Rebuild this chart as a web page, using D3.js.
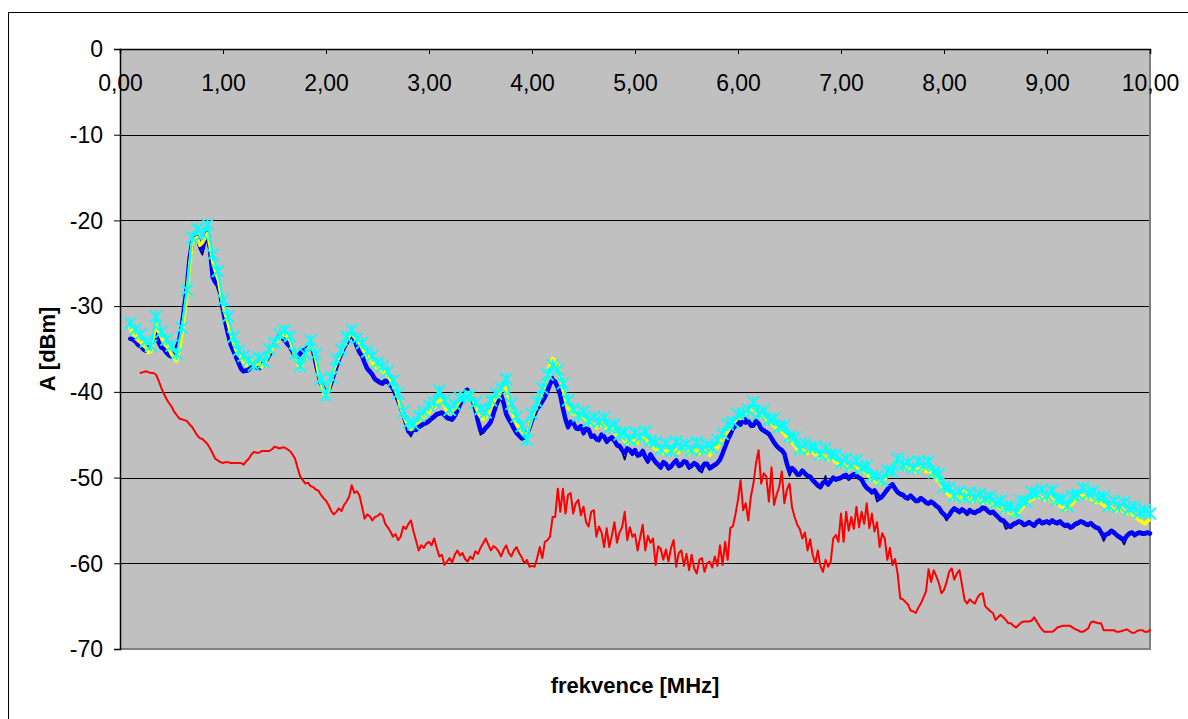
<!DOCTYPE html>
<html>
<head>
<meta charset="utf-8">
<script src="https://cdn.jsdelivr.net/npm/d3@7"></script>
<style>
  body { margin: 0; background: #ffffff; }
  svg { display: block; font-family: "Liberation Sans", Arial, sans-serif; }
</style>
</head>
<body>
<svg id="chart" width="1188" height="719"></svg>
<script>
// Fine frequency grid [MHz], 0.025 MHz step
const freq = [
  0.1,0.125,0.15,0.175,0.2,0.225,0.25,0.275,0.3,0.325,0.35,0.375,0.4,0.425,0.45,0.475,0.5,0.525,0.55,0.575,0.6,0.625,0.65,0.675,0.7,0.725,0.75,0.775,0.8,0.825,0.85,0.875,0.9,0.925,0.95,0.975,
  1,1.025,1.05,1.075,1.1,1.125,1.15,1.175,1.2,1.225,1.25,1.275,1.3,1.325,1.35,1.375,1.4,1.425,1.45,1.475,1.5,1.525,1.55,1.575,1.6,1.625,1.65,1.675,1.7,1.725,1.75,1.775,1.8,1.825,1.85,1.875,1.9,1.925,1.95,1.975,
  2,2.025,2.05,2.075,2.1,2.125,2.15,2.175,2.2,2.225,2.25,2.275,2.3,2.325,2.35,2.375,2.4,2.425,2.45,2.475,2.5,2.525,2.55,2.575,2.6,2.625,2.65,2.675,2.7,2.725,2.75,2.775,2.8,2.825,2.85,2.875,2.9,2.925,2.95,2.975,
  3,3.025,3.05,3.075,3.1,3.125,3.15,3.175,3.2,3.225,3.25,3.275,3.3,3.325,3.35,3.375,3.4,3.425,3.45,3.475,3.5,3.525,3.55,3.575,3.6,3.625,3.65,3.675,3.7,3.725,3.75,3.775,3.8,3.825,3.85,3.875,3.9,3.925,3.95,3.975,
  4,4.025,4.05,4.075,4.1,4.125,4.15,4.175,4.2,4.225,4.25,4.275,4.3,4.325,4.35,4.375,4.4,4.425,4.45,4.475,4.5,4.525,4.55,4.575,4.6,4.625,4.65,4.675,4.7,4.725,4.75,4.775,4.8,4.825,4.85,4.875,4.9,4.925,4.95,4.975,
  5,5.025,5.05,5.075,5.1,5.125,5.15,5.175,5.2,5.225,5.25,5.275,5.3,5.325,5.35,5.375,5.4,5.425,5.45,5.475,5.5,5.525,5.55,5.575,5.6,5.625,5.65,5.675,5.7,5.725,5.75,5.775,5.8,5.825,5.85,5.875,5.9,5.925,5.95,5.975,
  6,6.025,6.05,6.075,6.1,6.125,6.15,6.175,6.2,6.225,6.25,6.275,6.3,6.325,6.35,6.375,6.4,6.425,6.45,6.475,6.5,6.525,6.55,6.575,6.6,6.625,6.65,6.675,6.7,6.725,6.75,6.775,6.8,6.825,6.85,6.875,6.9,6.925,6.95,6.975,
  7,7.025,7.05,7.075,7.1,7.125,7.15,7.175,7.2,7.225,7.25,7.275,7.3,7.325,7.35,7.375,7.4,7.425,7.45,7.475,7.5,7.525,7.55,7.575,7.6,7.625,7.65,7.675,7.7,7.725,7.75,7.775,7.8,7.825,7.85,7.875,7.9,7.925,7.95,7.975,
  8,8.025,8.05,8.075,8.1,8.125,8.15,8.175,8.2,8.225,8.25,8.275,8.3,8.325,8.35,8.375,8.4,8.425,8.45,8.475,8.5,8.525,8.55,8.575,8.6,8.625,8.65,8.675,8.7,8.725,8.75,8.775,8.8,8.825,8.85,8.875,8.9,8.925,8.95,8.975,
  9,9.025,9.05,9.075,9.1,9.125,9.15,9.175,9.2,9.225,9.25,9.275,9.3,9.325,9.35,9.375,9.4,9.425,9.45,9.475,9.5,9.525,9.55,9.575,9.6,9.625,9.65,9.675,9.7,9.725,9.75,9.775,9.8,9.825,9.85,9.875,9.9,9.925,9.95,9.975,
  10
];

// Coarse frequency grid [MHz] for the marked series, 0.05 MHz step
const freqCoarse = [
  0.1,0.15,0.2,0.25,0.3,0.35,0.4,0.45,0.5,0.55,0.6,0.65,0.7,0.75,0.8,0.85,0.9,0.95,
  1,1.05,1.1,1.15,1.2,1.25,1.3,1.35,1.4,1.45,1.5,1.55,1.6,1.65,1.7,1.75,1.8,1.85,1.9,1.95,
  2,2.05,2.1,2.15,2.2,2.25,2.3,2.35,2.4,2.45,2.5,2.55,2.6,2.65,2.7,2.75,2.8,2.85,2.9,2.95,
  3,3.05,3.1,3.15,3.2,3.25,3.3,3.35,3.4,3.45,3.5,3.55,3.6,3.65,3.7,3.75,3.8,3.85,3.9,3.95,
  4,4.05,4.1,4.15,4.2,4.25,4.3,4.35,4.4,4.45,4.5,4.55,4.6,4.65,4.7,4.75,4.8,4.85,4.9,4.95,
  5,5.05,5.1,5.15,5.2,5.25,5.3,5.35,5.4,5.45,5.5,5.55,5.6,5.65,5.7,5.75,5.8,5.85,5.9,5.95,
  6,6.05,6.1,6.15,6.2,6.25,6.3,6.35,6.4,6.45,6.5,6.55,6.6,6.65,6.7,6.75,6.8,6.85,6.9,6.95,
  7,7.05,7.1,7.15,7.2,7.25,7.3,7.35,7.4,7.45,7.5,7.55,7.6,7.65,7.7,7.75,7.8,7.85,7.9,7.95,
  8,8.05,8.1,8.15,8.2,8.25,8.3,8.35,8.4,8.45,8.5,8.55,8.6,8.65,8.7,8.75,8.8,8.85,8.9,8.95,
  9,9.05,9.1,9.15,9.2,9.25,9.3,9.35,9.4,9.45,9.5,9.55,9.6,9.65,9.7,9.75,9.8,9.85,9.9,9.95,
  10
];

// Measured level A [dBm] on the fine grid
const navy = [
  -33.9,-34.0,-34.3,-34.7,-34.8,-35.2,-35.3,-35.0,-34.6,-34.1,-33.2,-34.4,-34.9,-35.2,-35.6,-35.9,-36.0,-35.5,-35.0,-34.1,-32.5,-30.2,-27.9,-24.7,-22.8,-22.4,-22.5,-23.4,-24.0,-22.6,-21.2,-23.7,-26.8,-27.4,-27.7,-28.8,
  -30.6,-32.2,-33.5,-34.7,-35.4,-36.1,-36.8,-37.5,-37.7,-37.7,-37.6,-37.1,-37.0,-37.3,-37.4,-37.1,-36.7,-36.3,-35.8,-35.2,-34.6,-34.0,-33.5,-33.9,-34.1,-34.6,-34.9,-35.5,-36.0,-36.0,-35.6,-35.3,-35.2,-35.0,-34.8,-35.4,-37.2,-38.1,-39.2,-39.8,
  -40.3,-40.0,-39.2,-38.2,-37.3,-36.3,-35.6,-35.0,-34.4,-33.8,-33.4,-34.1,-34.9,-35.6,-36.0,-36.8,-37.5,-37.8,-38.2,-38.7,-38.9,-39.1,-39.2,-38.9,-39.0,-39.4,-39.8,-40.5,-41.2,-42.0,-42.7,-43.8,-44.8,-45.2,-44.5,-44.6,-44.3,-44.1,-43.9,-43.8,
  -43.6,-43.3,-43.1,-42.8,-42.7,-42.6,-42.9,-43.2,-43.3,-43.4,-43.0,-42.4,-41.7,-41.1,-39.7,-39.6,-40.5,-41.2,-42.2,-43.6,-45.0,-44.8,-44.4,-44.1,-43.7,-42.8,-41.8,-41.1,-40.2,-41.5,-42.8,-43.4,-43.9,-44.5,-45.0,-45.3,-45.6,-45.5,-45.1,-44.4,
  -43.5,-42.8,-42.1,-41.8,-41.3,-40.8,-40.1,-39.3,-38.2,-39.0,-39.7,-40.6,-42.1,-43.4,-44.3,-43.7,-43.8,-44.4,-44.5,-44.2,-45.0,-44.5,-44.6,-45.4,-45.3,-45.7,-45.8,-45.2,-45.4,-46.0,-45.7,-45.5,-45.9,-46.4,-46.5,-47.0,-47.9,-46.8,-47.0,-47.4,
  -47.0,-47.6,-47.5,-47.1,-47.8,-48.3,-47.5,-48.0,-48.4,-48.7,-49.0,-48.4,-48.6,-49.1,-48.9,-48.5,-48.2,-48.8,-48.7,-48.3,-48.4,-49.0,-48.8,-48.5,-48.7,-49.2,-49.4,-48.6,-48.6,-49.1,-48.9,-48.7,-48.5,-48.1,-47.4,-46.6,-45.8,-45.2,-44.5,-44.1,
  -43.7,-44.0,-43.4,-43.0,-43.6,-44.1,-44.1,-43.6,-43.9,-44.5,-44.7,-44.9,-45.1,-45.6,-46.1,-46.5,-46.8,-47.0,-47.4,-48.6,-49.8,-49.1,-49.4,-49.8,-49.8,-49.4,-49.7,-50.0,-50.1,-50.5,-50.8,-51.1,-51.3,-50.8,-49.8,-51.0,-50.6,-50.2,-50.4,-50.3,
  -50.2,-50.0,-49.9,-50.3,-50.0,-49.8,-50.0,-50.2,-50.4,-51.0,-51.4,-51.6,-51.9,-51.7,-52.8,-52.6,-52.4,-52.0,-51.6,-51.2,-51.0,-51.5,-51.9,-52.1,-52.2,-52.5,-52.6,-52.3,-52.6,-52.9,-52.9,-52.6,-52.8,-53.1,-53.2,-53.0,-53.2,-53.5,-53.7,-54.2,
  -54.5,-55.0,-54.6,-54.1,-53.8,-54.0,-54.2,-53.9,-54.1,-54.4,-54.0,-54.2,-54.3,-54.1,-54.0,-53.7,-53.8,-54.1,-54.3,-54.2,-54.5,-54.8,-55.1,-55.2,-56.0,-55.8,-55.9,-55.6,-55.5,-55.3,-55.4,-55.7,-55.6,-55.4,-55.6,-55.8,-55.4,-55.2,-55.5,-55.4,
  -55.3,-55.5,-55.2,-55.4,-55.5,-55.3,-55.6,-55.8,-55.7,-56.0,-55.9,-55.6,-55.5,-55.3,-55.4,-55.6,-55.7,-55.5,-55.8,-56.0,-56.1,-56.6,-57.4,-56.8,-56.7,-56.4,-56.6,-56.9,-57.1,-57.3,-57.8,-57.0,-56.7,-56.6,-56.9,-56.7,-56.6,-56.7,-56.7,-56.6,
  -56.7
];

const blue = [
  -33.8,-33.9,-34.1,-34.5,-34.6,-35.0,-35.2,-34.9,-34.5,-34.0,-33.3,-34.2,-34.8,-35.0,-35.4,-35.7,-35.9,-35.4,-34.9,-34.0,-32.4,-30.0,-27.7,-24.5,-22.6,-22.1,-22.0,-22.8,-23.3,-22.3,-21.4,-23.5,-26.6,-27.2,-27.6,-28.6,
  -30.5,-32.0,-33.3,-34.5,-35.2,-35.9,-36.6,-37.3,-37.6,-37.5,-37.4,-37.0,-36.9,-37.1,-37.3,-36.9,-36.5,-36.2,-35.7,-35.0,-34.5,-33.9,-33.4,-33.7,-34.0,-34.4,-34.7,-35.3,-35.8,-35.9,-35.5,-35.2,-35.1,-34.8,-34.6,-35.2,-36.6,-37.9,-39.0,-39.6,
  -40.1,-39.8,-39.0,-38.0,-37.1,-36.2,-35.5,-34.8,-34.3,-33.6,-33.2,-33.9,-34.7,-35.4,-35.8,-36.6,-37.3,-37.6,-38.0,-38.5,-38.7,-38.9,-39.0,-38.7,-38.8,-39.2,-39.6,-40.3,-41.0,-41.8,-42.5,-43.6,-44.6,-44.8,-44.3,-44.4,-44.1,-43.9,-43.7,-43.6,
  -43.4,-43.1,-42.9,-42.6,-42.5,-42.4,-42.7,-43.0,-43.1,-43.2,-42.8,-42.2,-41.5,-40.9,-40.5,-39.8,-40.3,-41.0,-42.0,-43.4,-44.5,-44.6,-44.2,-43.9,-43.5,-42.6,-41.6,-40.9,-40.4,-41.3,-42.6,-43.2,-43.7,-44.3,-44.8,-45.1,-45.4,-45.3,-44.9,-44.2,
  -43.3,-42.6,-41.9,-41.6,-41.1,-40.6,-39.9,-39.1,-38.6,-38.8,-39.5,-40.4,-41.9,-43.2,-44.1,-43.5,-43.6,-44.2,-44.3,-44.0,-44.8,-44.3,-44.4,-45.2,-45.1,-45.5,-45.6,-45.0,-45.2,-45.8,-45.5,-45.3,-45.7,-46.2,-46.3,-46.8,-47.1,-46.6,-46.8,-47.2,
  -46.8,-47.4,-47.3,-46.9,-47.6,-48.1,-47.3,-47.8,-48.2,-48.5,-48.8,-48.2,-48.4,-48.9,-48.7,-48.3,-48.0,-48.6,-48.5,-48.1,-48.2,-48.8,-48.6,-48.3,-48.5,-49.0,-48.8,-48.4,-48.4,-48.9,-48.7,-48.5,-48.3,-47.9,-47.2,-46.4,-45.6,-45.0,-44.3,-43.9,
  -43.5,-43.8,-43.2,-43.6,-43.4,-43.9,-43.9,-43.4,-43.7,-44.3,-44.5,-44.7,-44.9,-45.4,-45.9,-46.3,-46.6,-46.8,-47.2,-48.4,-49.3,-48.9,-49.2,-49.6,-49.6,-49.2,-49.5,-49.8,-49.9,-50.3,-50.6,-50.9,-51.1,-50.6,-50.5,-50.8,-50.4,-50.0,-50.2,-50.1,
  -50.0,-49.8,-49.7,-50.1,-49.8,-49.6,-49.8,-50.0,-50.2,-50.8,-51.2,-51.4,-51.7,-51.5,-52.0,-52.4,-52.2,-51.8,-51.4,-51.0,-50.8,-51.3,-51.7,-51.9,-52.0,-52.3,-52.4,-52.1,-52.4,-52.7,-52.7,-52.4,-52.6,-52.9,-53.0,-52.8,-53.0,-53.3,-53.5,-54.0,
  -54.3,-54.6,-54.4,-53.9,-53.6,-53.8,-54.0,-53.7,-53.9,-54.2,-53.8,-54.0,-54.1,-53.9,-53.8,-53.5,-53.6,-53.9,-54.1,-54.0,-54.3,-54.6,-54.9,-55.0,-55.3,-55.6,-55.7,-55.4,-55.3,-55.1,-55.2,-55.5,-55.4,-55.2,-55.4,-55.6,-55.2,-55.0,-55.3,-55.2,
  -55.1,-55.3,-55.0,-55.2,-55.3,-55.1,-55.4,-55.6,-55.5,-55.8,-55.7,-55.4,-55.3,-55.1,-55.2,-55.4,-55.5,-55.3,-55.6,-55.8,-55.9,-56.4,-56.9,-56.6,-56.5,-56.2,-56.4,-56.7,-56.9,-57.1,-57.2,-56.8,-56.5,-56.4,-56.7,-56.5,-56.4,-56.5,-56.5,-56.4,
  -56.5
];

const yellow = [
  -32.6,-33.2,-33.4,-34.0,-34.2,-34.6,-34.8,-35.4,-35.3,-33.5,-32.0,-33.0,-33.6,-34.0,-34.6,-35.0,-35.6,-36.0,-36.4,-35.2,-33.4,-31.0,-28.6,-25.5,-22.8,-22.2,-22.0,-22.9,-22.6,-22.0,-21.5,-23.0,-24.8,-25.9,-26.5,-28.3,
  -29.8,-31.0,-32.0,-33.2,-34.2,-35.1,-35.7,-36.0,-36.5,-36.9,-36.8,-36.4,-37.0,-36.8,-36.6,-37.1,-36.8,-36.1,-35.4,-35.2,-34.5,-34.1,-33.7,-33.5,-33.3,-33.6,-33.9,-34.9,-35.8,-36.7,-37.3,-36.5,-35.9,-35.0,-34.3,-34.9,-36.0,-37.6,-38.9,-40.0,
  -40.6,-39.7,-38.6,-37.5,-36.6,-36.0,-35.3,-34.6,-34.0,-33.5,-33.1,-33.6,-34.0,-34.3,-34.8,-35.4,-35.8,-36.1,-36.6,-37.0,-37.2,-37.3,-37.6,-37.9,-38.1,-38.6,-39.2,-39.8,-40.6,-41.8,-42.6,-43.4,-44.0,-44.4,-43.9,-43.6,-43.4,-43.2,-42.9,-42.6,
  -42.4,-41.8,-41.9,-41.2,-40.8,-41.2,-41.6,-42.3,-42.5,-42.2,-42.0,-41.5,-41.0,-40.5,-40.4,-40.1,-40.2,-40.9,-41.6,-42.4,-42.9,-43.2,-43.0,-42.5,-41.8,-41.3,-40.7,-40.5,-39.9,-39.6,-39.5,-40.8,-42.0,-42.9,-43.6,-44.2,-44.6,-44.9,-45.0,-44.0,
  -43.0,-42.2,-41.5,-40.8,-39.9,-38.9,-37.8,-36.8,-36.1,-36.4,-37.0,-38.2,-39.6,-40.8,-41.8,-42.3,-42.6,-42.3,-43.0,-42.8,-43.3,-43.1,-43.5,-43.8,-43.9,-44.2,-44.0,-43.7,-44.0,-44.3,-44.4,-44.2,-44.8,-45.1,-45.1,-45.0,-45.7,-46.0,-45.9,-45.6,
  -45.8,-46.0,-45.6,-45.4,-45.6,-45.9,-46.0,-46.4,-46.7,-46.6,-47.0,-47.2,-46.9,-46.7,-47.1,-47.0,-46.8,-47.1,-46.6,-46.5,-46.9,-47.2,-47.0,-46.8,-46.9,-47.2,-47.0,-46.7,-47.2,-47.4,-46.9,-46.7,-46.5,-46.0,-45.3,-45.0,-44.6,-44.1,-43.6,-43.4,
  -43.0,-43.1,-42.6,-42.4,-42.2,-42.0,-42.0,-42.3,-42.6,-42.9,-43.0,-43.2,-43.5,-43.8,-44.0,-44.3,-44.4,-44.6,-44.9,-45.3,-45.6,-45.9,-46.3,-46.7,-47.0,-46.8,-47.0,-47.2,-46.9,-47.0,-47.3,-47.6,-47.7,-47.4,-47.6,-47.9,-47.8,-47.9,-48.2,-48.4,
  -48.6,-48.5,-48.8,-49.0,-48.9,-48.7,-48.9,-49.1,-49.3,-49.3,-49.5,-49.9,-50.1,-50.4,-50.6,-50.7,-50.4,-50.1,-49.8,-49.4,-48.8,-48.3,-48.0,-48.2,-48.5,-48.8,-48.9,-49.1,-49.2,-49.3,-49.0,-48.9,-49.0,-49.3,-49.2,-49.4,-49.8,-50.2,-50.5,-50.9,
  -51.4,-51.8,-52.0,-52.4,-52.3,-52.0,-52.2,-52.6,-51.6,-52.0,-52.4,-52.7,-52.6,-52.5,-52.8,-53.0,-52.9,-52.7,-53.1,-53.3,-53.4,-53.5,-53.6,-53.9,-53.8,-54.0,-54.1,-54.4,-54.3,-54.0,-53.6,-53.4,-53.1,-52.8,-52.6,-52.4,-52.3,-52.2,-52.4,-52.6,
  -52.5,-52.3,-52.6,-52.9,-53.0,-53.3,-53.4,-53.7,-53.6,-53.3,-53.0,-52.6,-52.3,-52.2,-52.1,-52.4,-52.3,-52.5,-52.6,-52.9,-52.8,-53.0,-53.2,-53.5,-53.6,-53.4,-53.7,-53.9,-53.8,-53.6,-54.0,-54.2,-54.2,-54.3,-54.5,-54.8,-55.0,-55.2,-55.4,-55.1,
  -54.9
];

const red = [
  null,null,null,null,-37.8,-37.7,-37.6,-37.7,-37.8,-37.8,-38.0,-38.7,-39.5,-40.2,-40.8,-41.3,-41.7,-42.3,-42.7,-43.1,-43.2,-43.3,-43.4,-43.8,-44.1,-44.6,-45.1,-45.4,-45.5,-45.8,-46.1,-46.6,-47.2,-47.8,-48.0,-48.2,
  -48.3,-48.2,-48.2,-48.3,-48.3,-48.3,-48.3,-48.3,-48.5,-48.1,-47.8,-47.3,-47.0,-47.1,-47.1,-46.9,-46.9,-46.9,-46.9,-46.7,-46.4,-46.5,-46.6,-46.5,-46.5,-46.7,-46.9,-47.3,-47.8,-48.9,-49.9,-50.3,-50.7,-50.6,-51.0,-51.1,-51.4,-51.5,-52.0,-52.4,
  -52.7,-53.2,-53.9,-54.3,-54.0,-53.6,-53.9,-53.2,-52.8,-52.2,-50.9,-51.8,-51.6,-52.1,-53.4,-54.8,-54.3,-54.5,-55.0,-54.6,-54.5,-54.2,-54.4,-55.4,-55.8,-56.3,-56.9,-56.6,-57.3,-56.9,-55.7,-56.0,-55.4,-55.0,-56.3,-57.4,-58.5,-57.9,-58.2,-57.7,
  -57.5,-57.9,-57.1,-58.2,-59.2,-59.0,-60.2,-59.8,-59.4,-59.9,-59.0,-58.5,-59.1,-58.8,-59.5,-59.8,-59.2,-59.5,-58.6,-58.9,-58.2,-57.7,-57.1,-57.8,-58.5,-58.0,-58.2,-58.6,-59.2,-58.4,-57.9,-58.8,-59.2,-58.5,-58.1,-58.8,-59.3,-60.0,-59.6,-60.4,
  -60.3,-60.4,-59.4,-58.1,-59.4,-57.5,-57.3,-56.9,-54.6,-54.6,-51.3,-54.0,-51.3,-54.2,-52.0,-51.8,-54.2,-53.0,-52.6,-54.4,-53.4,-55.2,-55.7,-54.0,-53.8,-56.9,-55.7,-56.4,-58.1,-55.9,-58.1,-56.8,-55.2,-57.6,-56.4,-55.8,-54.0,-57.3,-55.8,-56.9,
  -56.6,-58.5,-57.0,-55.5,-58.5,-56.8,-57.6,-57.1,-60.2,-58.0,-58.3,-59.6,-58.4,-59.8,-58.2,-57.3,-60.4,-58.8,-58.5,-60.3,-58.9,-60.8,-59.0,-60.6,-61.2,-59.6,-59.4,-61.0,-60.0,-59.8,-60.5,-59.2,-60.3,-57.9,-60.2,-57.5,-59.6,-55.9,-55.7,-54.3,
  -52.6,-50.3,-53.8,-53.0,-55.0,-52.2,-50.7,-48.3,-46.8,-50.7,-49.5,-49.9,-52.8,-48.8,-53.2,-52.0,-51.1,-49.3,-53.0,-51.4,-50.7,-53.5,-54.6,-55.5,-56.0,-57.1,-56.4,-58.5,-57.2,-59.0,-60.0,-58.5,-60.3,-61.0,-59.6,-60.4,-59.8,-57.1,-56.7,-57.5,
  -54.2,-57.5,-54.0,-56.2,-54.6,-56.0,-53.4,-55.8,-54.0,-55.4,-53.0,-55.9,-54.2,-56.3,-55.2,-58.1,-56.5,-57.1,-59.6,-58.2,-60.2,-59.5,-61.2,-64.1,-64.2,-64.5,-64.8,-65.5,-65.6,-65.8,-65.2,-64.7,-64.0,-63.3,-60.7,-62.2,-60.8,-61.5,-62.3,-63.5,
  -63.1,-62.2,-61.0,-60.6,-61.9,-61.2,-60.8,-62.5,-64.3,-64.7,-64.2,-64.5,-64.7,-64.0,-63.6,-63.5,-65.0,-65.3,-65.6,-65.8,-66.6,-66.3,-66.0,-66.3,-66.6,-67.0,-67.0,-67.3,-67.5,-67.2,-66.9,-66.8,-66.8,-66.8,-66.7,-66.3,-66.8,-67.3,-67.7,-68.0,
  -68.0,-68.0,-68.0,-67.8,-67.5,-67.4,-67.3,-67.3,-67.3,-67.3,-67.5,-67.7,-67.8,-68.0,-68.0,-67.8,-67.6,-66.9,-66.8,-66.9,-67.0,-67.0,-67.8,-67.8,-67.8,-67.8,-67.8,-68.0,-68.0,-67.9,-67.8,-67.7,-67.9,-68.1,-68.1,-67.9,-67.8,-67.8,-68.0,-68.0,
  -67.8
];

// Measured level A [dBm] on the coarse grid (star-marked series)
const cyan = [
  -32.0,-32.7,-33.3,-34.1,-34.6,-31.2,-33.0,-33.9,-34.6,-35.6,-32.5,-28.1,-22.0,-21.0,-21.6,-20.5,-24.0,-25.9,
  -29.3,-31.2,-33.6,-35.2,-35.8,-36.3,-36.9,-36.0,-36.5,-35.0,-34.3,-33.3,-32.8,-33.5,-35.5,-37.0,-35.6,-34.0,-35.6,-38.5,
  -40.4,-38.3,-36.2,-35.1,-33.6,-32.8,-33.8,-34.3,-35.3,-35.8,-36.6,-37.0,-37.6,-38.7,-40.2,-42.3,-43.6,-43.8,-42.8,-42.3,
  -41.6,-41.2,-39.9,-41.0,-42.1,-41.5,-40.7,-40.6,-40.4,-41.3,-42.0,-42.4,-41.0,-40.2,-39.6,-38.5,-41.4,-42.9,-44.0,-45.6,
  -42.6,-41.2,-39.6,-38.0,-36.9,-37.4,-39.0,-41.0,-42.0,-42.8,-42.3,-43.4,-42.9,-43.5,-43.0,-44.2,-43.8,-45.0,-44.7,-45.6,
  -44.8,-45.3,-44.6,-45.7,-45.9,-46.7,-46.0,-46.9,-45.8,-46.4,-46.1,-46.8,-45.9,-46.7,-46.2,-46.5,-45.6,-44.9,-43.8,-43.5,
  -42.6,-42.5,-42.1,-41.2,-42.6,-42.2,-43.3,-43.1,-44.1,-43.9,-45.2,-45.3,-46.7,-46.0,-46.5,-46.4,-47.3,-46.6,-47.4,-47.3,
  -48.3,-47.8,-48.6,-48.0,-48.9,-48.6,-49.8,-49.8,-50.3,-49.2,-49.3,-47.8,-48.6,-48.2,-48.9,-48.1,-48.6,-48.1,-49.4,-49.6,
  -51.1,-51.2,-52.1,-51.6,-52.3,-51.8,-52.3,-51.9,-52.5,-52.2,-53.0,-52.7,-53.5,-53.3,-54.1,-52.7,-52.8,-51.7,-51.9,-51.4,
  -52.1,-51.5,-52.6,-52.5,-53.3,-52.1,-52.0,-51.2,-51.9,-51.6,-52.3,-52.2,-53.3,-52.7,-53.4,-52.9,-53.7,-53.4,-54.1,-53.8,
  -54.2
];

// Axis ticks and labels
const xTickValues = [0,1,2,3,4,5,6,7,8,9,10];
const xTickLabels = ["0,00","1,00","2,00","3,00","4,00","5,00","6,00","7,00","8,00","9,00","10,00"];
const yTickValues = [0,-10,-20,-30,-40,-50,-60,-70];
const xTitle = "frekvence [MHz]";
const yTitle = "A [dBm]";

const svg = d3.select("#chart");
const plot = { left: 120, top: 49, right: 1150, bottom: 649 };

const x = d3.scaleLinear().domain([0, 10]).range([plot.left, plot.right]);
const y = d3.scaleLinear().domain([-70, 0]).range([plot.bottom, plot.top]);

// Outer chart frame
svg.append("rect")
  .attr("x", 8.5).attr("y", 12.5)
  .attr("width", 1200).attr("height", 720)
  .attr("fill", "#ffffff").attr("stroke", "#000000").attr("stroke-width", 1);

// Plot area
svg.append("rect")
  .attr("x", plot.left).attr("y", plot.top)
  .attr("width", plot.right - plot.left).attr("height", plot.bottom - plot.top)
  .attr("fill", "#c0c0c0");

// Horizontal gridlines
svg.append("g")
  .selectAll("line")
  .data(yTickValues.filter(v => v !== 0 && v !== -70))
  .join("line")
  .attr("x1", plot.left).attr("x2", plot.right)
  .attr("y1", d => Math.round(y(d)) + 0.5).attr("y2", d => Math.round(y(d)) + 0.5)
  .attr("stroke", "#000000").attr("stroke-width", 1);

// Right and bottom border of the plot area
svg.append("path")
  .attr("d", `M${plot.right},${plot.top}V${plot.bottom}H${plot.left}`)
  .attr("fill", "none").attr("stroke", "#808080").attr("stroke-width", 2);

// Series
const pts = (fs, vals) => fs.map((f, i) => [f, vals[i]]);
const line = d3.line()
  .defined(d => d[1] !== null && d[1] !== undefined)
  .x(d => x(d[0]))
  .y(d => y(d[1]));

const gData = svg.append("g");
function drawLine(fs, vals, color, width) {
  gData.append("path")
    .datum(pts(fs, vals))
    .attr("d", line)
    .attr("fill", "none")
    .attr("stroke", color)
    .attr("stroke-width", width)
    .attr("stroke-linejoin", "round")
    .attr("stroke-linecap", "round");
}

drawLine(freq, navy, "#000080", 1.8);
drawLine(freq, blue, "#0000ff", 4.5);
drawLine(freq, yellow, "#ffff00", 3.6);
drawLine(freqCoarse, cyan, "#00ffff", 2.2);

// Star markers on the cyan series
const starPath = "M-6,-6L6,6M-6,6L6,-6M0,-6L0,6";
gData.append("g")
  .selectAll("path")
  .data(pts(freqCoarse, cyan))
  .join("path")
  .attr("transform", d => `translate(${x(d[0])},${y(d[1])})`)
  .attr("d", starPath)
  .attr("fill", "none")
  .attr("stroke", "#00ffff")
  .attr("stroke-width", 1.8);

drawLine(freq, red, "#ff0000", 2);

// Y axis
const yAxis = d3.axisLeft(y).tickValues(yTickValues).tickSize(6).tickPadding(11)
  .tickFormat(d => String(d));
const gy = svg.append("g").attr("transform", `translate(${plot.left},0)`).call(yAxis);
gy.select(".domain").attr("stroke", "#000000").attr("stroke-width", 1.5);
gy.selectAll(".tick line").attr("stroke", "#000000").attr("stroke-width", 1);
gy.selectAll(".tick text")
  .attr("font-size", 23).attr("font-family", "Liberation Sans, Arial, sans-serif")
  .attr("fill", "#000000").attr("dy", "0.34em");

// X axis along the 0 dBm line
const xAxis = d3.axisBottom(x).tickValues(xTickValues).tickSize(5).tickPadding(21)
  .tickFormat((d, i) => xTickLabels[i]);
const gx = svg.append("g").attr("transform", `translate(0,${plot.top})`).call(xAxis);
gx.select(".domain").attr("stroke", "#000000").attr("stroke-width", 1.5);
gx.selectAll(".tick line").attr("stroke", "#000000").attr("stroke-width", 1);
gx.selectAll(".tick text")
  .attr("font-size", 23).attr("font-family", "Liberation Sans, Arial, sans-serif")
  .attr("fill", "#000000");

// Axis titles
svg.append("text")
  .attr("x", (plot.left + plot.right) / 2).attr("y", 693)
  .attr("text-anchor", "middle")
  .attr("font-size", 22).attr("font-weight", "bold")
  .text(xTitle);

svg.append("text")
  .attr("transform", `translate(55,${(plot.top + plot.bottom) / 2}) rotate(-90)`)
  .attr("text-anchor", "middle")
  .attr("font-size", 22).attr("font-weight", "bold")
  .text(yTitle);
</script>
</body>
</html>
